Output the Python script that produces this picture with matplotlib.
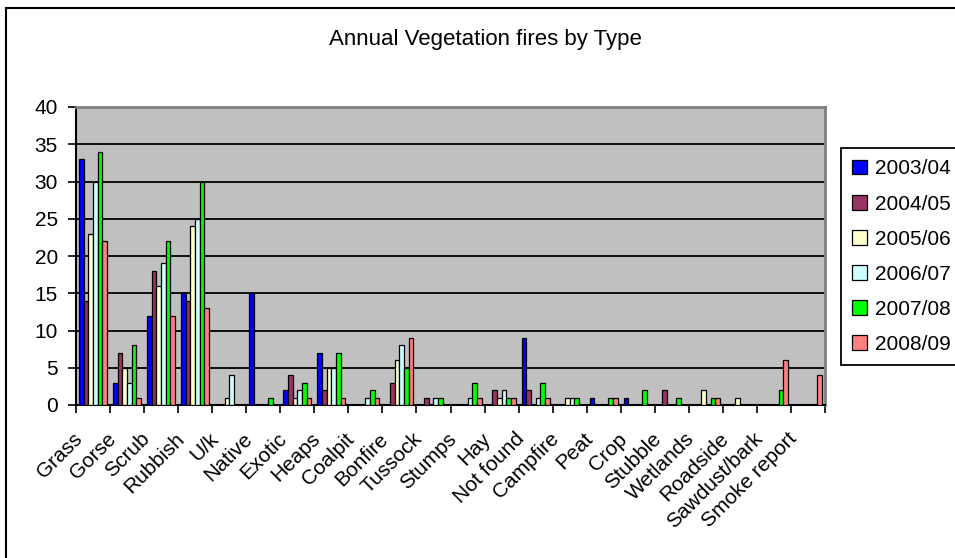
import numpy as np
import matplotlib
matplotlib.use('Agg')
import matplotlib.pyplot as plt
from matplotlib.patches import Rectangle
from matplotlib.transforms import ScaledTranslation

plt.rcParams['font.family'] = ['Liberation Sans', 'DejaVu Sans']

categories = ['Grass', 'Gorse', 'Scrub', 'Rubbish', 'U/k', 'Native', 'Exotic',
              'Heaps', 'Coalpit', 'Bonfire', 'Tussock', 'Stumps', 'Hay',
              'Not found', 'Campfire', 'Peat', 'Crop', 'Stubble', 'Wetlands',
              'Roadside', 'Sawdust/bark', 'Smoke report']
seasons = ['2003/04', '2004/05', '2005/06', '2006/07', '2007/08', '2008/09']

y0304 = [33, 3, 12, 15, 0, 15, 2, 7, 0, 0, 0, 0, 0, 9, 0, 1, 1, 0, 0, 0, 0, 0]
y0405 = [14, 7, 18, 14, 0, 0, 4, 2, 0, 3, 1, 0, 2, 2, 0, 0, 0, 2, 0, 0, 0, 0]
y0506 = [23, 5, 16, 24, 1, 0, 1, 5, 0, 6, 0, 0, 1, 0, 1, 0, 0, 0, 2, 1, 0, 0]
y0607 = [30, 3, 19, 25, 4, 0, 2, 5, 1, 8, 1, 1, 2, 1, 1, 0, 0, 0, 0, 0, 0, 0]
y0708 = [34, 8, 22, 30, 0, 1, 3, 7, 2, 5, 1, 3, 1, 3, 1, 1, 2, 1, 1, 0, 2, 0]
y0809 = [22, 1, 12, 13, 0, 0, 1, 1, 1, 9, 0, 1, 1, 1, 0, 1, 0, 0, 1, 0, 6, 4]

series = [y0304, y0405, y0506, y0607, y0708, y0809]
colors = ['#0000FF', '#993366', '#FFFFCC', '#CCFFFF', '#00FF00', '#FF8080']

fig = plt.figure(figsize=(9.55, 5.58), dpi=100)
ax = fig.add_axes([76 / 955, 1 - 405 / 558, (825 - 76) / 955, (405 - 107) / 558])
ax.set_facecolor('#C0C0C0')

x = np.arange(len(categories)) + 0.5
w = 0.137
for j, (vals, c, name) in enumerate(zip(series, colors, seasons)):
    ax.bar(x + (j - 2.5) * w, vals, width=w, color=c, edgecolor='black',
           linewidth=0.9, label=name, zorder=3)

ax.set_xlim(0, len(categories))
ax.set_ylim(0, 40)
ax.set_yticks(range(0, 41, 5))
ax.yaxis.grid(True, color='black', linewidth=1.3, zorder=1)
ax.set_axisbelow(True)

ax.set_xticks(range(len(categories) + 1))
ax.set_xticklabels([])
ax.set_xticks(x, minor=True)
ax.set_xticklabels(categories, minor=True, rotation=45, ha='right', va='center',
                   rotation_mode='anchor', fontsize=15)
ax.tick_params(axis='x', which='major', direction='out', length=6, width=1.2)
ax.tick_params(axis='x', which='minor', length=0, pad=0)
ax.tick_params(axis='y', direction='out', length=6, width=1.2, pad=7, labelsize=15)

shift = ScaledTranslation(-14 / 100, -31 / 100, fig.dpi_scale_trans)
for lab in ax.get_xticklabels(minor=True):
    lab.set_transform(lab.get_transform() + shift)

for s in ['left', 'bottom']:
    ax.spines[s].set_color('black')
    ax.spines[s].set_linewidth(1.5)
for s in ['top', 'right']:
    ax.spines[s].set_color('#808080')
    ax.spines[s].set_linewidth(2)

fig.text(485 / 955, 1 - 40 / 558, 'Annual Vegetation fires by Type',
         ha='center', va='center', fontsize=16)

leg = ax.legend(loc='upper left', bbox_to_anchor=(841 / 955, 1 - 148 / 558),
                bbox_transform=fig.transFigure, fontsize=15, fancybox=False,
                framealpha=1, edgecolor='black', borderaxespad=0,
                handlelength=0.7, handleheight=0.7, handletextpad=0.4,
                labelspacing=0.77, borderpad=0.55)
leg.get_frame().set_linewidth(1.3)

fig.add_artist(Rectangle((6 / 955, -0.1), 1.2, 1.1 - 8 / 558,
                         transform=fig.transFigure, fill=False,
                         edgecolor='black', linewidth=1.5))

plt.savefig('out.png', dpi=100)
